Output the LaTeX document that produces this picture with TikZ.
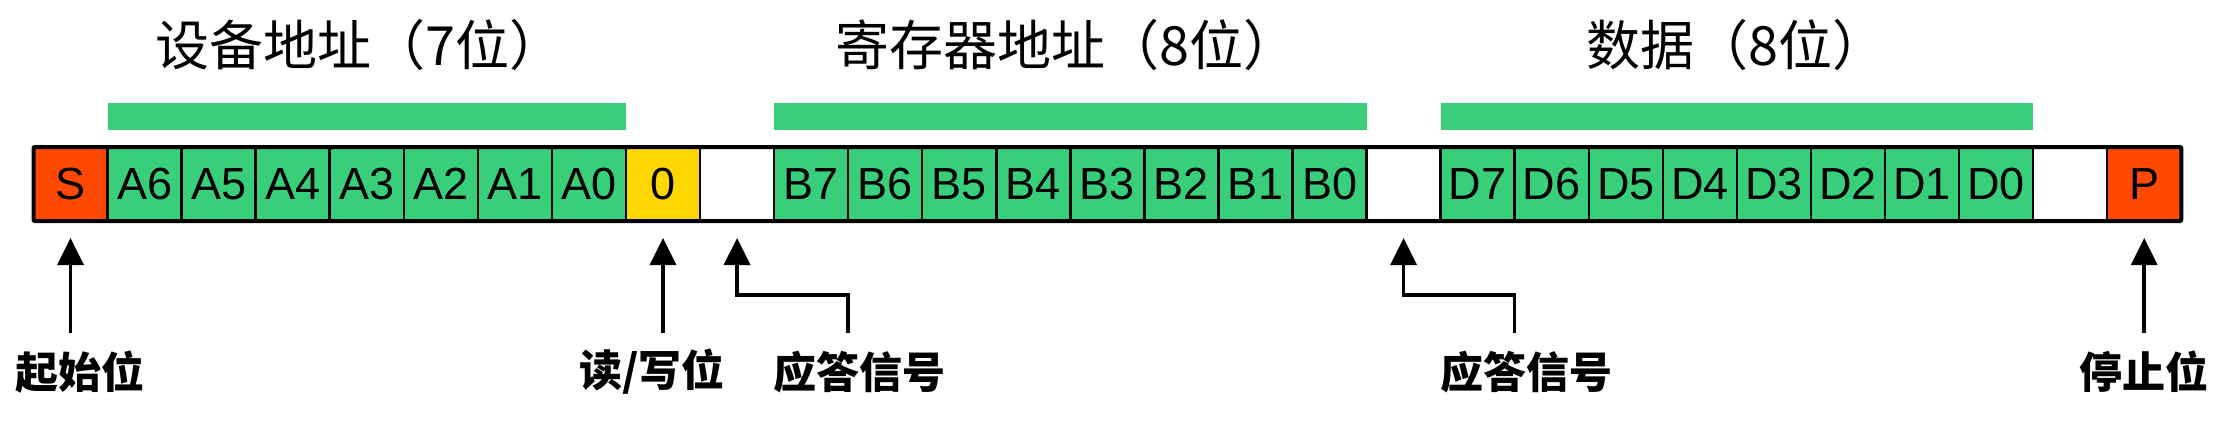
\documentclass[tikz,border=0pt]{standalone}
\usepackage{fontspec}
\setmainfont{Liberation Sans}
\newfontfamily\cjk{Noto Sans CJK SC}
\usepackage{tikz}
\usetikzlibrary{arrows.meta, calc, positioning}
\usepackage{xcolor}
\definecolor{BitGreen}{RGB}{56, 206, 122}
\definecolor{BitRed}{RGB}{255, 72, 0}
\definecolor{BitYellow}{RGB}{255, 215, 0}
\tikzset{%
  bit/.style={%
    rectangle,%
    draw=black,%
    line width=2.5pt,%
    minimum width=74.06pt,%
    minimum height=74pt,%
    inner sep=0pt,%
    outer sep=0pt,%
    font={\fontsize{45}{45}\selectfont},%
  },
  data_bit/.style={%
    bit,%
    fill=BitGreen,%
  },
  edge_bit/.style={%
    bit,%
    fill=BitRed,%
  },
  rw_bit/.style={%
    bit,%
    fill=BitYellow,%
  },
  ack_bit/.style={%
    bit,%
    fill=white,%
  },
  frame/.style={%
    draw=black,%
    line width=4pt,%
    line join=round,%
    rounded corners=1pt,%
  },
  field_bar/.style={%
    fill=BitGreen,%
  },
  heading/.style={%
    inner sep=0pt,%
    anchor=west,%
    font={\cjk\fontsize{54}{54}\selectfont},%
  },
  callout/.style={%
    inner sep=0pt,%
    font={\cjk\bfseries\fontsize{43}{43}\selectfont},%
  },
  pointer/.style={%
    -{Triangle[length=27pt, width=26pt]},%
    line width=3.5pt,%
    shorten >=17pt,%
  },
}

\begin{document}
\begin{tikzpicture}[x=1pt, y=1pt]
    \useasboundingbox (0,0) rectangle (2240,424);

    % the frame of bits
    \node [edge_bit] (Start) at (70.53,240) {S};
    \node [data_bit, right = 0 of Start] (A6) {A6};
    \node [data_bit, right = 0 of A6] (A5) {A5};
    \node [data_bit, right = 0 of A5] (A4) {A4};
    \node [data_bit, right = 0 of A4] (A3) {A3};
    \node [data_bit, right = 0 of A3] (A2) {A2};
    \node [data_bit, right = 0 of A2] (A1) {A1};
    \node [data_bit, right = 0 of A1] (A0) {A0};
    \node [rw_bit, right = 0 of A0] (RW) {0};
    \node [ack_bit, right = 0 of RW] (Ack1) {};
    \node [data_bit, right = 0 of Ack1] (B7) {B7};
    \node [data_bit, right = 0 of B7] (B6) {B6};
    \node [data_bit, right = 0 of B6] (B5) {B5};
    \node [data_bit, right = 0 of B5] (B4) {B4};
    \node [data_bit, right = 0 of B4] (B3) {B3};
    \node [data_bit, right = 0 of B3] (B2) {B2};
    \node [data_bit, right = 0 of B2] (B1) {B1};
    \node [data_bit, right = 0 of B1] (B0) {B0};
    \node [ack_bit, right = 0 of B0] (Ack2) {};
    \node [data_bit, right = 0 of Ack2] (D7) {D7};
    \node [data_bit, right = 0 of D7] (D6) {D6};
    \node [data_bit, right = 0 of D6] (D5) {D5};
    \node [data_bit, right = 0 of D5] (D4) {D4};
    \node [data_bit, right = 0 of D4] (D3) {D3};
    \node [data_bit, right = 0 of D3] (D2) {D2};
    \node [data_bit, right = 0 of D2] (D1) {D1};
    \node [data_bit, right = 0 of D1] (D0) {D0};
    \node [ack_bit, right = 0 of D0] (Ack3) {};
    \node [edge_bit, right = 0 of Ack3] (Stop) {P};
    \draw [frame] (Start.north west) rectangle (Stop.south east);

    % fields
    \fill [field_bar]
      ($(A6.north west)+(0,17)$) rectangle ($(A0.north east)+(0,44)$);
    \fill [field_bar]
      ($(B7.north west)+(0,17)$) rectangle ($(B0.north east)+(0,44)$);
    \fill [field_bar]
      ($(D7.north west)+(0,17)$) rectangle ($(D0.north east)+(0,44)$);
    \node [heading] (dev_title) at (155,379) {设备地址（7位）};
    \node [heading] (reg_title) at (835,379) {寄存器地址（8位）};
    \node [heading] (dat_title) at (1586,379) {数据（8位）};

    % pointers
    \coordinate (tails) at (0,91);
    \node [callout] (start_label) at (80,52) {起始位};
    \node [callout] (rw_label) at (652,52) {读/写位};
    \node [callout] (ack1_label) at (859,52) {应答信号};
    \node [callout] (ack2_label) at (1526,52) {应答信号};
    \node [callout] (stop_label) at (2144,52) {停止位};

    \draw [pointer]
      (Start.south |- tails)
      --
      (Start.south);
    \draw [pointer]
      (RW.south |- tails)
      --
      (RW.south);
    \draw [pointer]
      (B7.south east |- tails)
      --
      ++(0,38)
      -|
      (Ack1.south);
    \draw [pointer]
      (D7.south east |- tails)
      --
      ++(0,38)
      -|
      (Ack2.south);
    \draw [pointer]
      (Stop.south |- tails)
      --
      (Stop.south);
  \end{tikzpicture}
\end{document}
